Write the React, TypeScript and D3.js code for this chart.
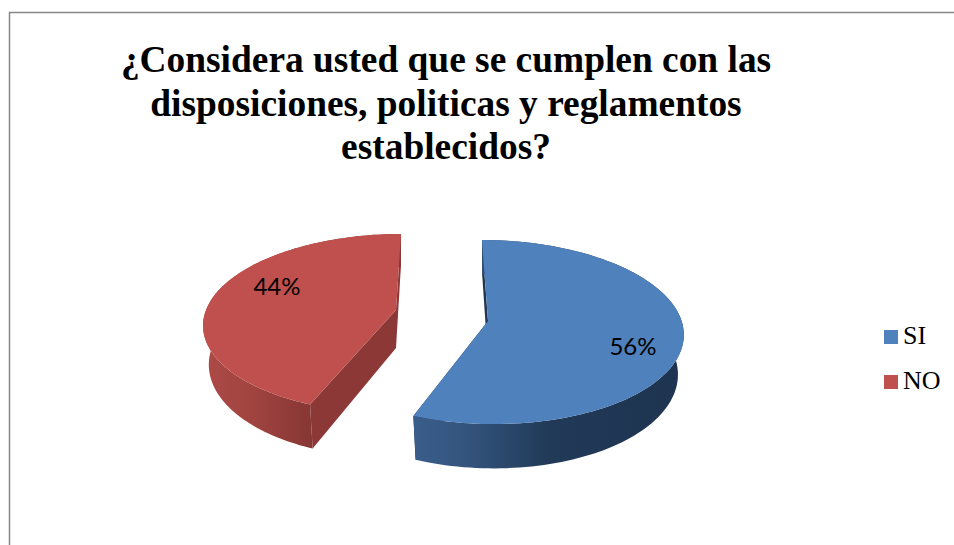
import React from "react";
import * as d3 from "d3";

const titleLines = [
  "¿Considera usted que se cumplen con las",
  "disposiciones, politicas y reglamentos",
  "establecidos?",
];
const categories = ["SI", "NO"];
const shares = [56, 44];

const WIDTH = 954;
const HEIGHT = 545;

// Perspective set-up of each exploded slice: apex position, plan radii, foreshortening.
const sliceViews = [
  { apexX: 488, apexY: 321, rx: 193.6, ry: 90.7, persp: 0.12, shear: 6, depth: 39 },
  { apexX: 396, apexY: 310, rx: 190, ry: 87.4, persp: 0.15, shear: -5, depth: 38 },
];
const topColors = ["#4f81bd", "#c0504d"];
const wallColors = ["#1f3551", "#8b3836"];
const rimStops = [
  [
    [0, "#3a5d8b"],
    [0.2, "#33547c"],
    [0.5, "#213a58"],
    [1, "#1e3450"],
  ],
  [
    [0, "#ad4a46"],
    [0.45, "#a14440"],
    [1, "#873735"],
  ],
];
const rimRanges = [
  [414, 683],
  [203, 310],
];
const labelSpots = [
  [633, 346],
  [277, 286],
];

type View = (typeof sliceViews)[number];
type Pt = [number, number];

// Maps a pie angle on the unit disc to the screen, on the top face of the slice.
function onTop(v: View, angle: number, r = 1): Pt {
  const X = r * Math.sin(angle);
  const Y = -r * Math.cos(angle);
  const k = 1 / (1 - v.persp * Y);
  return [v.apexX + v.rx * X * k + v.shear * Y, v.apexY + v.ry * Y * k];
}

// The same point on the lower face, slightly smaller because it is further away.
function onBottom(v: View, angle: number, r = 1): Pt {
  const [x, y] = onTop(v, angle, r);
  const Y = -r * Math.cos(angle);
  const k = 1 / (1 - v.persp * Y);
  return [x - (x - v.apexX) * 0.03, y + v.depth * k];
}

const path = d3.line<Pt>();

export default function App() {
  const arcs = d3
    .pie<number>()
    .sort(null)
    .startAngle(0)
    .endAngle(2 * Math.PI)(shares);

  const color = d3.scaleOrdinal<string, string>().domain(categories).range(topColors);

  const slices = arcs.map((a, i) => {
    const v = sliceViews[i];
    const steps = d3.range(0, 121).map((t) => a.startAngle + ((a.endAngle - a.startAngle) * t) / 120);
    const topEdge = steps.map((t) => onTop(v, t));
    const lowEdge = steps.map((t) => onBottom(v, t));
    const topFace = path([onTop(v, 0, 0), ...topEdge]) + "Z";
    // The curved side is swept as narrow strips so its silhouette stays straight at the extremes.
    const rim = d3
      .pairs(d3.range(steps.length))
      .map(([p, q]) => path([topEdge[p], topEdge[q], lowEdge[q], lowEdge[p]]) + "Z")
      .join("");
    const wall = (angle: number) =>
      path([onTop(v, 0, 0), onTop(v, angle), onBottom(v, angle), onBottom(v, 0, 0)]) + "Z";
    return { v, topFace, rim, walls: [wall(a.startAngle), wall(a.endAngle)] };
  });

  return (
    <svg
      width={WIDTH}
      height={HEIGHT}
      style={{ position: "absolute", left: 0, top: 0, display: "block", background: "#fff" }}
    >
      <defs>
        {rimStops.map((stops, i) => (
          <linearGradient
            key={i}
            id={`rim-${i}`}
            gradientUnits="userSpaceOnUse"
            x1={rimRanges[i][0]}
            x2={rimRanges[i][1]}
            y1={0}
            y2={0}
          >
            {stops.map(([o, c]) => (
              <stop key={String(o)} offset={o as number} stopColor={c as string} />
            ))}
          </linearGradient>
        ))}
      </defs>

      {/* chart frame, open to the right and below */}
      <path d="M9.5 545V12.5H954" fill="none" stroke="#868686" strokeWidth={1.5} />

      <g
        fontFamily="'Liberation Serif', serif"
        fontWeight="bold"
        fontSize={37.4}
        textAnchor="middle"
        fill="#000"
      >
        {titleLines.map((line, i) => (
          <text key={i} x={446} y={72 + i * 43.5}>
            {line}
          </text>
        ))}
      </g>

      {slices.map((s, i) => (
        <g key={categories[i]}>
          {s.walls.map((d, j) => (
            <path key={j} d={d} fill={wallColors[i]} />
          ))}
          <path d={s.rim} fill={`url(#rim-${i})`} fillRule="nonzero" />
          <path d={s.topFace} fill={color(categories[i])} />
        </g>
      ))}

      {arcs.map((a, i) => (
        <text
          key={i}
          x={labelSpots[i][0]}
          y={labelSpots[i][1]}
          dy="0.36em"
          textAnchor="middle"
          fontFamily="Lato, sans-serif"
          fontSize={24}
          fill="#000"
        >
          {`${a.value}%`}
        </text>
      ))}

      {categories.map((c, i) => (
        <g key={c} transform={`translate(884, ${330 + i * 45})`}>
          <rect width={14} height={14} fill={color(c)} />
          <text x={19} y={14} fontFamily="'Liberation Serif', serif" fontSize={26} fill="#000">
            {c}
          </text>
        </g>
      ))}
    </svg>
  );
}
